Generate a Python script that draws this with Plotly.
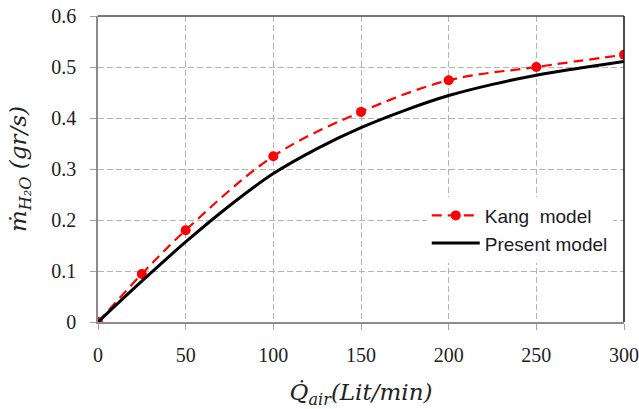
import plotly.graph_objects as go

# Air flow rate (Lit/min) and water mass flow (gr/s)
kang_q = [0, 25, 50, 100, 150, 200, 250, 300]
kang_m = [0, 0.094, 0.18, 0.325, 0.412, 0.474, 0.50, 0.524]

present_q = [0, 25, 50, 75, 100, 125, 150, 175, 200, 225, 250, 275, 300]
present_m = [0, 0.080, 0.157, 0.228, 0.291, 0.340, 0.381, 0.415, 0.444, 0.466, 0.484, 0.498, 0.511]

x_ticks = [0, 50, 100, 150, 200, 250, 300]
y_ticks = [0, 0.1, 0.2, 0.3, 0.4, 0.5, 0.6]
y_tick_text = ["0", "0.1", "0.2", "0.3", "0.4", "0.5", "0.6"]

fig = go.Figure()

fig.add_trace(go.Scatter(
    x=kang_q, y=kang_m, name="Kang  model",
    mode="lines+markers",
    line=dict(color="#ff0000", width=2.2, dash="10px,6px", shape="spline", smoothing=1.0),
    marker=dict(color="#ff0000", size=10),
))
fig.add_trace(go.Scatter(
    x=present_q, y=present_m, name="Present model",
    mode="lines",
    line=dict(color="#000000", width=3, shape="spline", smoothing=1.0),
))

grid = dict(showgrid=True, gridcolor="#b4b4b4", griddash="6px,3px", gridwidth=1)
title_font = dict(family="DejaVu Serif", size=23, color="#222222")
tick_font = dict(family="Liberation Serif, serif", size=20, color="#222222")

fig.update_layout(
    width=639, height=409,
    margin=dict(l=98, r=15, t=16, b=87),
    paper_bgcolor="white", plot_bgcolor="white",
    font=dict(family="Liberation Serif, serif", size=20, color="#222222"),
    showlegend=True,
    legend=dict(
        x=0.625, y=0.41, xanchor="left", yanchor="top",
        bgcolor="white", borderwidth=0,
        font=dict(family="Liberation Sans", size=19, color="#1a1a2a"),
        itemwidth=48, tracegroupgap=2,
    ),
    xaxis=dict(
        range=[0, 300], tickvals=x_ticks, zeroline=False, automargin=False,
        showline=True, linecolor="#8c8c8c", linewidth=1.5,
        ticks="outside", ticklen=6, tickcolor="#a0a0a0",
        ticklabelstandoff=8, tickfont=tick_font,
        title=dict(text="<i>Q̇<sub>air</sub>(Lit/min)</i>", font=title_font, standoff=22),
        **grid,
    ),
    yaxis=dict(
        range=[0, 0.6], tickvals=y_ticks, ticktext=y_tick_text, zeroline=False, automargin=False,
        showline=True, linecolor="#8c8c8c", linewidth=1.5,
        ticks="outside", ticklen=6, tickcolor="#a0a0a0",
        ticklabelstandoff=10, tickfont=tick_font,
        title=dict(text="<i>ṁ<sub>H₂O</sub> (gr/s)</i>", font=title_font, standoff=18),
        **grid,
    ),
)

# Frame: darker top and right edges
fig.add_shape(type="line", xref="paper", yref="paper", x0=0, x1=1, y0=1, y1=1,
              line=dict(color="#4a4a4a", width=1.5))
fig.add_shape(type="line", xref="paper", yref="paper", x0=1, x1=1, y0=0, y1=1,
              line=dict(color="#111111", width=1.5))

fig.write_html("out.html")
